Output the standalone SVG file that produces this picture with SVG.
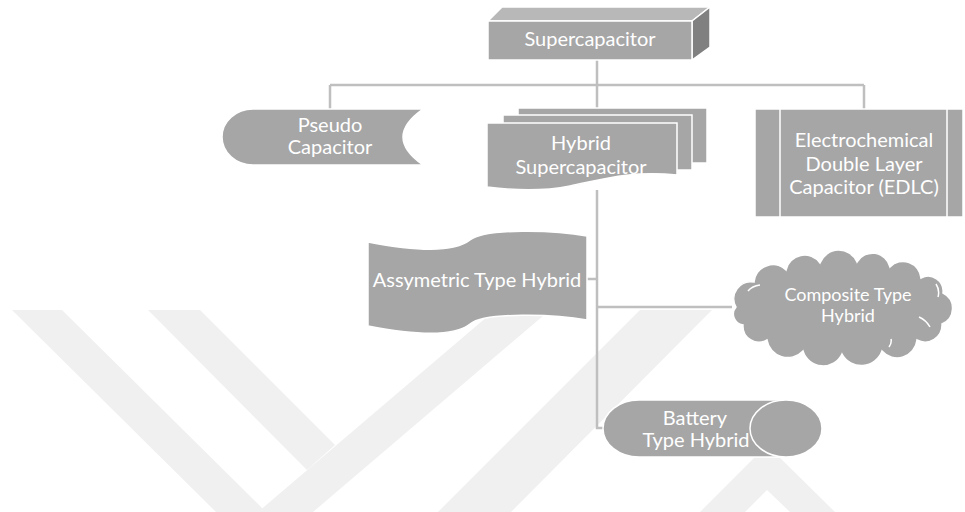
<svg xmlns="http://www.w3.org/2000/svg" width="965" height="512" viewBox="0 0 965 512">
<style>
.wm{fill:#f0f0f0;stroke:none}
.shape{fill:#a6a6a6;stroke:#ffffff;stroke-width:1.5}
.conn{fill:none;stroke:#bfbfbf;stroke-width:2.5}
.inner{fill:none;stroke:#ffffff;stroke-width:1.5}
.lbl{font-family:Lato,"Liberation Sans",sans-serif;font-size:20px;fill:#ffffff;text-anchor:middle}
</style>
<rect width="965" height="512" fill="#ffffff"/>
<g id="watermark">
<polygon class="wm" points="12,310 62,310 266,512 216,512"/>
<polygon class="wm" points="148,310 200,310 335,445 307,470"/>
<polygon class="wm" points="258,512 495,310 550,310 313,512"/>
<polygon class="wm" points="438,512 640,310 712,310 511,512"/>
<polygon class="wm" points="700,512 767,445 835,512 790,512 767,490 745,512"/>
</g>
<g id="connectors">
<path class="conn" d="M597,60 V85"/>
<path class="conn" d="M330,85 H864"/>
<path class="conn" d="M330,85 V109"/>
<path class="conn" d="M597,85 V108"/>
<path class="conn" d="M864,85 V109"/>
<path class="conn" d="M597,190 V428 H604"/>
<path class="conn" d="M587,279 H597"/>
<path class="conn" d="M597,307 H732"/>
</g>
<g id="supercapacitor">
<polygon points="488,21 502,7 710,7 692,21" fill="#b8b8b8" stroke="#ffffff" stroke-width="1.5"/>
<polygon points="692,21 710,7 710,47 692,60" fill="#808080" stroke="#ffffff" stroke-width="1.5"/>
<rect class="shape" x="488" y="21" width="204" height="39"/>
<text class="lbl" x="590" y="46">Supercapacitor</text>
</g>
<g id="pseudo">
<path class="shape" d="M253,109 L423,109 Q383,137 423,165 L253,165 A31,28 0 0 1 253,109 Z"/>
<text class="lbl" x="330" y="132">Pseudo</text>
<text class="lbl" x="330" y="154">Capacitor</text>
</g>
<g id="hybrid">
<rect class="shape" x="518" y="108" width="189" height="55"/>
<rect class="shape" x="503" y="115" width="189" height="55"/>
<path class="shape" d="M487,123 L677,123 L677,175 C630,170 600,180 570,186 C540,192 510,190 487,187 Z"/>
<text class="lbl" x="581" y="150">Hybrid</text>
<text class="lbl" x="581" y="174">Supercapacitor</text>
</g>
<g id="edlc">
<rect class="shape" x="755" y="109" width="208" height="108"/>
<path class="inner" d="M780,109 V217 M947,109 V217" stroke-width="2"/>
<text class="lbl" x="864" y="147">Electrochemical</text>
<text class="lbl" x="864" y="171">Double Layer</text>
<text class="lbl" x="864" y="194">Capacitor (EDLC)</text>
</g>
<g id="assymetric">
<path class="shape" d="M368,242 C420,252 455,252 470,240 C485,228 555,230 587,236 L587,320 C555,314 485,312 470,324 C455,336 420,336 368,326 Z"/>
<text class="lbl" x="477" y="287">Assymetric Type Hybrid</text>
</g>
<g id="composite">
<path class="shape" d="M736,307 A17,17 0 0 1 754,282 A19,19 0 0 1 786,270 A19,19 0 0 1 820,263 A20,20 0 0 1 857,262 A18,18 0 0 1 890,267 A18,18 0 0 1 921,278 A15,15 0 0 1 943,293 A17,17 0 0 1 942,324 A17,17 0 0 1 917,340 A20,20 0 0 1 882,351 A22,22 0 0 1 842,354 A21,21 0 0 1 803,351 A21,21 0 0 1 767,340 A16,16 0 0 1 743,325 A11,11 0 0 1 736,307 Z"/>
<path class="inner" d="M748,291 Q752,286 760,285 M936,284 Q940,290 938,297 M919,317 Q926,320 930,327 M889,347 Q892,343 891,339"/>
<text class="lbl" x="848" y="301" style="font-size:18px">Composite Type</text>
<text class="lbl" x="848" y="322" style="font-size:18px">Hybrid</text>
</g>
<g id="battery">
<path class="shape" d="M639,400 L786,400 A36,28.5 0 0 1 786,457 L639,457 A36,28.5 0 0 1 639,400 Z"/>
<ellipse class="shape" cx="786" cy="428.5" rx="36" ry="28.5"/>
<text class="lbl" x="695" y="425">Battery</text>
<text class="lbl" x="696" y="447">Type Hybrid</text>
</g>
</svg>
